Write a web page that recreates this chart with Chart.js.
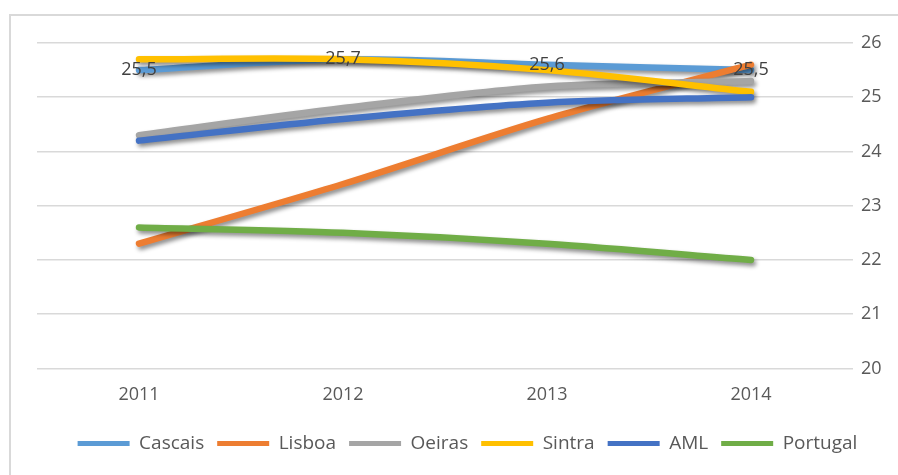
<!DOCTYPE html>
<html>
<head>
<meta charset="utf-8">
<script src="https://cdn.jsdelivr.net/npm/chart.js@4.4.1/dist/chart.umd.min.js"></script>
<style>
    html, body { margin: 0; padding: 0; background: #ffffff; }
    #wrap { position: absolute; left: 0; top: 0; width: 898px; height: 475px; }
</style>
</head>
<body>
<div id="wrap"><canvas id="chart" width="898" height="475"></canvas></div>
<script>
const years = ['2011', '2012', '2013', '2014'];

const cascais = [25.5, 25.7, 25.6, 25.5];
const lisboa = [22.3, 23.4, 24.6, 25.6];
const oeiras = [24.3, 24.8, 25.2, 25.3];
const sintra = [25.7, 25.7, 25.5, 25.1];
const aml = [24.2, 24.6, 24.9, 25.0];
const portugal = [22.6, 22.5, 22.3, 22.0];

const seriesNames = ['Cascais', 'Lisboa', 'Oeiras', 'Sintra', 'AML', 'Portugal'];
const seriesData = [cascais, lisboa, oeiras, sintra, aml, portugal];
const seriesColors = ['#5B9BD5', '#ED7D31', '#A5A5A5', '#FFC000', '#4472C4', '#70AD47'];

const yMin = 20;
const yMax = 26;

const FONT = "'Open Sans', 'Noto Sans', sans-serif";

// frame round the chart, like the spreadsheet object
const framePlugin = {
    id: 'frame',
    beforeDraw(chart) {
        const ctx = chart.ctx;
        ctx.save();
        ctx.strokeStyle = '#d9d9d9';
        ctx.lineWidth = 2;
        ctx.strokeRect(10, 15, 900, 480);
        ctx.restore();
    }
};

// soft drop shadow under every line
const shadowPlugin = {
    id: 'lineShadow',
    beforeDatasetDraw(chart) {
        const ctx = chart.ctx;
        ctx.save();
        ctx.shadowColor = 'rgba(0, 0, 0, 0.45)';
        ctx.shadowBlur = 4;
        ctx.shadowOffsetX = 2;
        ctx.shadowOffsetY = 3;
    },
    afterDatasetDraw(chart) {
        chart.ctx.restore();
    }
};

// value labels on the Cascais series
const valueLabelPlugin = {
    id: 'valueLabels',
    afterDatasetsDraw(chart) {
        const ctx = chart.ctx;
        const meta = chart.getDatasetMeta(0);
        ctx.save();
        ctx.font = '18px ' + FONT;
        ctx.fillStyle = '#404040';
        ctx.textAlign = 'center';
        ctx.textBaseline = 'middle';
        meta.data.forEach((pt, i) => {
            const txt = cascais[i].toFixed(1).replace('.', ',');
            ctx.fillText(txt, pt.x, pt.y);
        });
        ctx.restore();
    }
};

const datasets = seriesNames.map((name, i) => ({
    label: name,
    data: seriesData[i],
    borderColor: seriesColors[i],
    backgroundColor: seriesColors[i],
    borderWidth: 6.5,
    borderCapStyle: 'round',
    borderJoinStyle: 'round',
    pointRadius: 0,
    tension: 0.3,
    fill: false,
    order: seriesNames.length - i
}));

new Chart(document.getElementById('chart'), {
    type: 'line',
    data: {
        labels: years,
        datasets: datasets
    },
    options: {
        responsive: false,
        animation: false,
        layout: {
            padding: { left: 37, right: 0, top: 43, bottom: 12 }
        },
        plugins: {
            tooltip: { enabled: false },
            legend: {
                position: 'bottom',
                labels: {
                    font: { family: FONT, size: 19 },
                    color: '#595959',
                    boxWidth: 52,
                    boxHeight: 5,
                    padding: 13,
                    generateLabels(chart) {
                        return chart.data.datasets.map((ds, i) => ({
                            text: ds.label,
                            fillStyle: ds.borderColor,
                            strokeStyle: ds.borderColor,
                            lineWidth: 0,
                            fontColor: '#595959',
                            datasetIndex: i,
                            hidden: false
                        }));
                    }
                }
            }
        },
        scales: {
            x: {
                offset: true,
                afterFit(scale) { scale.height = scale.height - 1; },
                grid: { display: false, drawTicks: false },
                border: { display: false },
                ticks: {
                    font: { family: FONT, size: 18 },
                    color: '#595959',
                    padding: 16
                }
            },
            y: {
                position: 'right',
                min: yMin,
                max: yMax,
                afterFit(scale) { scale.width = 45; },
                grid: { color: '#d9d9d9', lineWidth: 1.5, drawTicks: false },
                border: { display: false },
                ticks: {
                    stepSize: 1,
                    font: { family: FONT, size: 18 },
                    color: '#595959',
                    padding: 8
                }
            }
        }
    },
    plugins: [framePlugin, shadowPlugin, valueLabelPlugin]
});
</script>
</body>
</html>
